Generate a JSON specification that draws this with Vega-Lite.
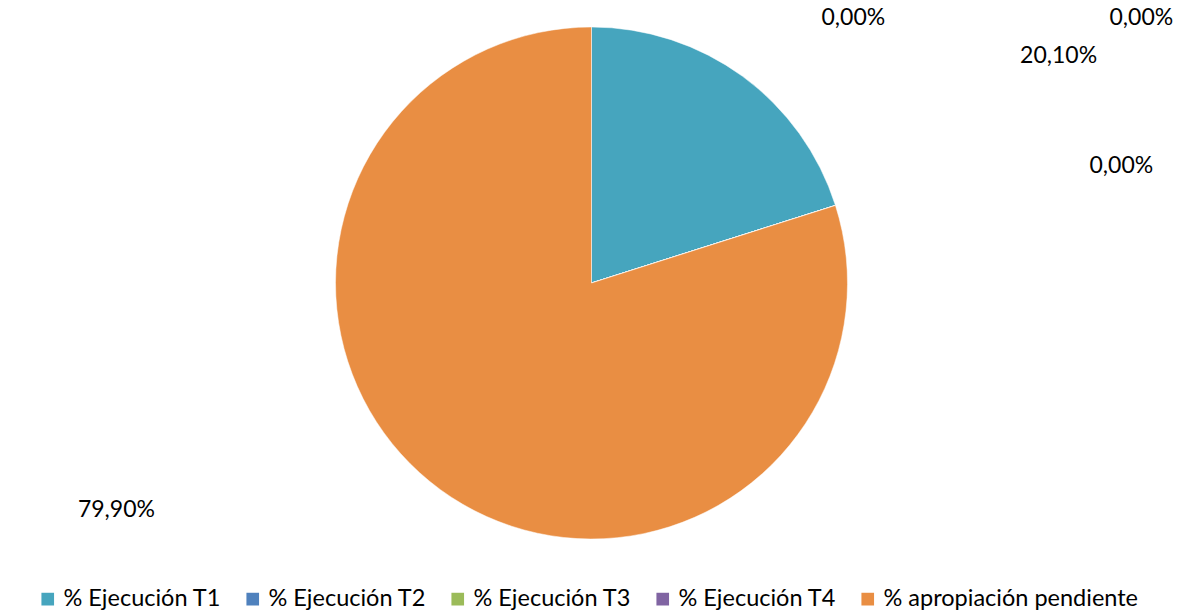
{
  "$schema": "https://vega.github.io/schema/vega-lite/v6.json",
  "width": 1183,
  "height": 566,
  "autosize": {"type": "none"},
  "padding": {"top": 0, "left": 0, "right": 0, "bottom": 48},
  "background": "white",
  "data": {
    "values": [
      {"idx": 1, "cat": "% Ejecución T1", "value": 0.201},
      {"idx": 2, "cat": "% Ejecución T2", "value": 0.0},
      {"idx": 3, "cat": "% Ejecución T3", "value": 0.0},
      {"idx": 4, "cat": "% Ejecución T4", "value": 0.0},
      {"idx": 5, "cat": "% apropiación pendiente", "value": 0.799}
    ]
  },
  "encoding": {
    "theta": {"field": "value", "type": "quantitative", "stack": true},
    "order": {"field": "idx", "type": "quantitative"}
  },
  "layer": [
    {
      "mark": {"type": "arc", "outerRadius": 256, "stroke": "#ffffff", "strokeWidth": 0.5},
      "encoding": {
        "color": {
          "field": "cat",
          "type": "nominal",
          "scale": {
            "domain": ["% Ejecución T1", "% Ejecución T2", "% Ejecución T3", "% Ejecución T4", "% apropiación pendiente"],
            "range": ["#46A5BE", "#4F81BD", "#9BBB59", "#8064A2", "#E98E43"]
          },
          "legend": {
            "title": null,
            "orient": "none",
            "legendX": 36,
            "legendY": 587,
            "direction": "horizontal",
            "columns": 5,
            "symbolType": "square",
            "symbolSize": 200,
            "labelFontSize": 23.5,
            "labelFont": "Lato",
            "labelColor": "#000000",
            "columnPadding": 19,
            "labelOffset": 4,
            "labelLimit": 400
          }
        }
      }
    },
    {
      "mark": {"type": "text", "radius": 300, "font": "Lato", "fontSize": 23, "color": "#000000", "dx": 290, "dy": 15},
      "encoding": {
        "text": {
          "condition": {"test": "datum.idx === 1", "field": "value", "type": "quantitative", "format": ".2%"},
          "value": ""
        }
      }
    },
    {
      "mark": {"type": "text", "radius": 300, "font": "Lato", "fontSize": 23, "color": "#000000", "dx": -298, "dy": -15},
      "encoding": {
        "text": {
          "condition": {"test": "datum.idx === 5", "field": "value", "type": "quantitative", "format": ".2%"},
          "value": ""
        }
      }
    },
    {
      "mark": {"type": "text", "radius": 280, "font": "Lato", "fontSize": 23, "color": "#000000", "dx": -5, "dy": -180},
      "encoding": {
        "text": {
          "condition": {"test": "datum.idx === 2", "field": "value", "type": "quantitative", "format": ".2%"},
          "value": ""
        }
      }
    },
    {
      "mark": {"type": "text", "radius": 280, "font": "Lato", "fontSize": 23, "color": "#000000", "dx": 283, "dy": -180},
      "encoding": {
        "text": {
          "condition": {"test": "datum.idx === 3", "field": "value", "type": "quantitative", "format": ".2%"},
          "value": ""
        }
      }
    },
    {
      "mark": {"type": "text", "radius": 280, "font": "Lato", "fontSize": 23, "color": "#000000", "dx": 263, "dy": -32},
      "encoding": {
        "text": {
          "condition": {"test": "datum.idx === 4", "field": "value", "type": "quantitative", "format": ".2%"},
          "value": ""
        }
      }
    }
  ],
  "config": {
    "view": {"stroke": null},
    "locale": {
      "number": {"decimal": ",", "thousands": ".", "grouping": [3], "currency": ["", " €"]}
    }
  }
}
